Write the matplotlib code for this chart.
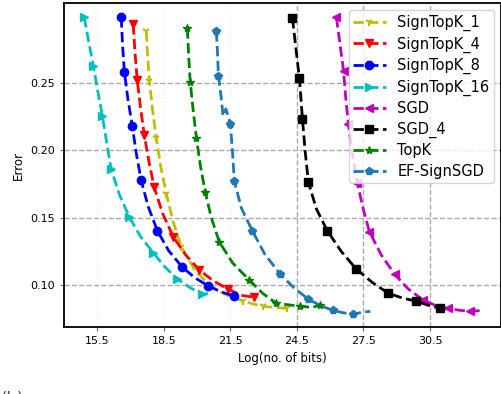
import matplotlib
matplotlib.use("Agg")
import matplotlib.pyplot as plt

# Data (x = log2 of transmitted bits, y = error)
signtopk_1_x = [17.71, 17.77, 17.85, 17.99, 18.16, 18.36, 18.61, 18.92, 19.29, 19.90, 20.60,
                21.30, 22.09, 22.55, 22.99, 23.50, 24.07]
signtopk_1_y = [0.2881, 0.2700, 0.2515, 0.2300, 0.2090, 0.1880, 0.1679, 0.1470, 0.1284, 0.1110,
                0.0993, 0.0930, 0.0881, 0.0860, 0.0843, 0.0835, 0.0828]

signtopk_4_x = [17.12, 17.20, 17.30, 17.45, 17.62, 17.83, 18.07, 18.45, 18.93, 19.48, 20.10,
                20.75, 21.41, 22.00, 22.58]
signtopk_4_y = [0.2933, 0.2725, 0.2522, 0.2315, 0.2112, 0.1915, 0.1724, 0.1530, 0.1358, 0.1225,
                0.1112, 0.1030, 0.0970, 0.0925, 0.0910]

signtopk_8_x = [16.58, 16.64, 16.72, 16.88, 17.08, 17.26, 17.48, 17.80, 18.21, 18.72, 19.33,
                19.90, 20.51, 21.10, 21.68]
signtopk_8_y = [0.2985, 0.2780, 0.2582, 0.2380, 0.2179, 0.1975, 0.1776, 0.1580, 0.1403, 0.1255,
                0.1134, 0.1055, 0.0993, 0.0950, 0.0918]

signtopk_16_x = [14.91, 15.12, 15.32, 15.52, 15.73, 15.93, 16.13, 16.50, 16.94, 17.45, 18.03,
                 18.55, 19.11, 19.65, 20.24, 20.60]
signtopk_16_y = [0.2985, 0.2800, 0.2627, 0.2440, 0.2254, 0.2050, 0.1858, 0.1670, 0.1507, 0.1360,
                 0.1239, 0.1135, 0.1045, 0.0985, 0.0933, 0.0940]

sgd_x = [26.28, 26.44, 26.60, 26.70, 26.82, 27.00, 27.23, 27.48, 27.77, 28.30, 28.90, 29.50,
         30.20, 30.75, 31.29, 31.80, 32.32, 32.82]
sgd_y = [0.2985, 0.2790, 0.2590, 0.2390, 0.2194, 0.1970, 0.1754, 0.1570, 0.1396, 0.1225, 0.1082,
         0.0975, 0.0888, 0.0850, 0.0828, 0.0815, 0.0806, 0.0813]

sgd_4_x = [24.30, 24.45, 24.61, 24.68, 24.75, 24.87, 25.02, 25.38, 25.87, 26.50, 27.18, 27.90,
           28.62, 29.25, 29.89, 30.45, 30.97, 31.33]
sgd_4_y = [0.2978, 0.2760, 0.2537, 0.2385, 0.2231, 0.1995, 0.1761, 0.1565, 0.1403, 0.1250, 0.1119,
           0.1020, 0.0940, 0.0905, 0.0881, 0.0850, 0.0828, 0.0821]

topk_x = [19.56, 19.62, 19.69, 19.82, 19.97, 20.15, 20.37, 20.65, 21.00, 21.60, 22.36, 22.95,
          23.57, 24.10, 24.66, 25.20, 25.56]
topk_y = [0.2903, 0.2700, 0.2507, 0.2300, 0.2090, 0.1885, 0.1687, 0.1495, 0.1321, 0.1165, 0.1037,
          0.0940, 0.0866, 0.0855, 0.0843, 0.0836, 0.0852]

ef_signsgd_x = [20.87, 20.92, 20.96, 21.08, 21.17, 21.30, 21.50, 21.60, 21.68, 22.00, 22.49,
                23.05, 23.75, 24.40, 25.02, 25.60, 26.14, 26.60, 27.05, 27.45, 27.81]
ef_signsgd_y = [0.2881, 0.2720, 0.2552, 0.2400, 0.2254, 0.2306, 0.2194, 0.1980, 0.1769, 0.1570,
                0.1403, 0.1230, 0.1082, 0.0975, 0.0896, 0.0845, 0.0813, 0.0795, 0.0784, 0.0800,
                0.0806]

x_ticks = [15.5, 18.5, 21.5, 24.5, 27.5, 30.5]
y_ticks = [0.10, 0.15, 0.20, 0.25]

# Create the plot
fig, ax = plt.subplots(figsize=(5.02, 3.94), dpi=100)
fig.subplots_adjust(left=0.1275, right=0.998, bottom=0.170, top=0.992)

ax.grid(True, linestyle='--', color='#aaaaaa', linewidth=1, zorder=0)

style = dict(ls='--', lw=2, ms=6)
ax.plot(signtopk_1_x, signtopk_1_y, color='y', marker='1', mew=1.5, markevery=2,
        label='SignTopK_1', **style)
ax.plot(signtopk_4_x, signtopk_4_y, color='r', marker='v', markevery=2,
        label='SignTopK_4', **style)
ax.plot(signtopk_8_x, signtopk_8_y, color='b', marker='o', markevery=2,
        label='SignTopK_8', **style)
ax.plot(signtopk_16_x, signtopk_16_y, color='c', marker='>', markevery=2,
        label='SignTopK_16', **style)
ax.plot(sgd_x, sgd_y, color='m', marker='<', markevery=2, label='SGD', **style)
ax.plot(sgd_4_x, sgd_4_y, color='k', marker='s', markevery=2, label='SGD_4', **style)
ax.plot(topk_x, topk_y, color='g', marker='*', markevery=2, label='TopK', **style)
ax.plot(ef_signsgd_x, ef_signsgd_y, color='tab:blue', marker='p',
        markevery=[0, 2, 6, 8, 10, 12, 14, 16, 18], label='EF-SignSGD', **style)

# Axes limits and ticks
ax.set_xlim(14.0, 33.7)
ax.set_ylim(0.069, 0.309)
ax.set_xticks(x_ticks)
ax.set_yticks(y_ticks)
ax.set_xticklabels(['%.1f' % t for t in x_ticks])
ax.set_yticklabels(['%.2f' % t for t in y_ticks])
ax.tick_params(labelsize=8, length=3, color='0.4')

# the left three vertical grid lines are barely visible in the reference
for gl in ax.get_xgridlines()[:3]:
    gl.set_color('0.94')
    gl.set_linestyle(':')

for sp in ax.spines.values():
    sp.set_linewidth(1.3)

ax.set_xlabel('Log(no. of bits)', fontsize=8.5)
ax.set_ylabel('Error', fontsize=8.5)

ax.legend(loc='upper right', fontsize=10.5, handlelength=2.2, borderpad=0.3,
          labelspacing=0.37)

# caption of the sub-figure, cut by the bottom edge as in the reference
fig.text(0.002, -0.028, '(b)', fontsize=12, color='0.3', va='baseline')

fig.savefig('out.png', dpi=100)
